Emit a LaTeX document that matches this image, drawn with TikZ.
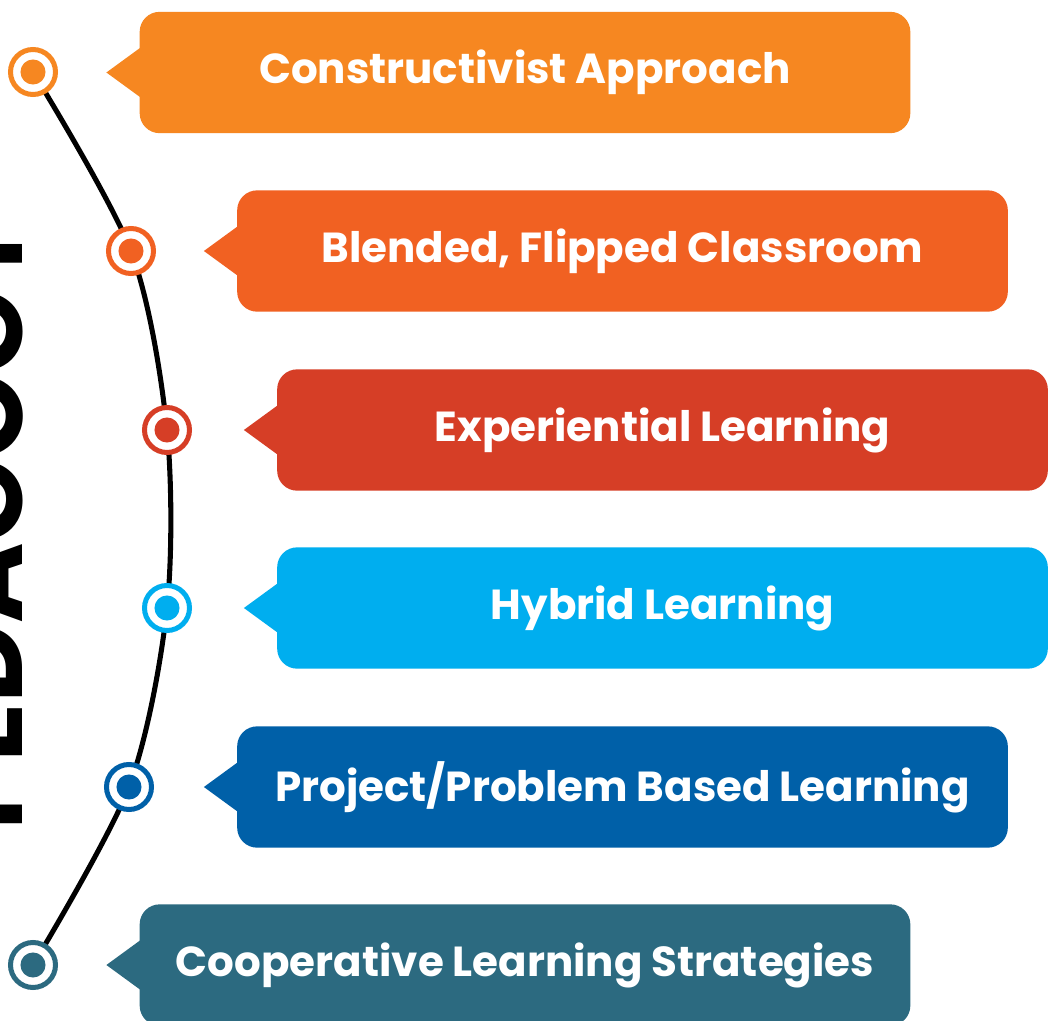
\documentclass[tikz,border=0pt]{standalone}
\usepackage{fontspec}
\setmainfont{Poppins}
\usepackage{xcolor}
\usepackage{tikz}
\usetikzlibrary{positioning,calc,backgrounds}
\definecolor{StepOrange}{RGB}{246,135,33}
\definecolor{StepFlame}{RGB}{241,97,34}
\definecolor{StepRed}{RGB}{214,62,38}
\definecolor{StepSky}{RGB}{0,174,239}
\definecolor{StepBlue}{RGB}{0,96,168}
\definecolor{StepTeal}{RGB}{44,106,128}

\begin{document}
\begin{tikzpicture}[x=0.75pt, y=-0.75pt,
                % card style (rounded box, white text)
                card/.style={rectangle, rounded corners=15pt, fill=#1, text=white, font=\bfseries\fontsize{31.5}{36}\selectfont, minimum width=578pt, minimum height=91pt, inner sep=0pt},
                % pointer of a card
                pointer/.style={fill=#1},
                % ring marker on the spine
                ring/.style={circle, draw=#1, fill=white, line width=3.75pt, minimum size=33.75pt, inner sep=0pt,
                    path picture={\fill[#1] (path picture bounding box.center) circle (9.4pt);}},
                % spine line
                spine/.style={draw=black, line width=3.8pt},
                % big side title
                sidetitle/.style={rotate=90, anchor=base, font=\bfseries\fontsize{82}{82}\selectfont, text=black}
            ]
                \useasboundingbox (0,0) rectangle (1051,1021);
                \clip (0,0) rectangle (1051,1021);

                % --- SIDE TITLE (cut off by the left edge) ---
                \node[sidetitle] (title) at (22,524) {PEDAGOGY};

                % --- CARDS ---
                \node[card=StepOrange] (b1) at (525,72.5) {Constructivist Approach};
                \node[card=StepFlame] (b2) at (622.5,251) {Blended, Flipped Classroom};
                \node[card=StepRed] (b3) at (662.5,430) {Experiential Learning};
                \node[card=StepSky] (b4) at (662.5,608) {Hybrid Learning};
                \node[card=StepBlue] (b5) at (622.5,787) {Project/Problem Based Learning};
                \node[card=StepTeal] (b6) at (525,965) {Cooperative Learning Strategies};

                % --- POINTERS ---
                \coordinate (t1) at ($(b1.west)+(-33,0)$);
                \coordinate (t2) at ($(b2.west)+(-33,0)$);
                \coordinate (t3) at ($(b3.west)+(-33,0)$);
                \coordinate (t4) at ($(b4.west)+(-33,0)$);
                \coordinate (t5) at ($(b5.west)+(-33,0)$);
                \coordinate (t6) at ($(b6.west)+(-33,0)$);
                \fill[pointer=StepOrange] ($(b1.west)+(4,-27)$) -- (t1) -- ($(b1.west)+(4,27)$) -- cycle;
                \fill[pointer=StepFlame] ($(b2.west)+(4,-27)$) -- (t2) -- ($(b2.west)+(4,27)$) -- cycle;
                \fill[pointer=StepRed] ($(b3.west)+(4,-27)$) -- (t3) -- ($(b3.west)+(4,27)$) -- cycle;
                \fill[pointer=StepSky] ($(b4.west)+(4,-27)$) -- (t4) -- ($(b4.west)+(4,27)$) -- cycle;
                \fill[pointer=StepBlue] ($(b5.west)+(4,-27)$) -- (t5) -- ($(b5.west)+(4,27)$) -- cycle;
                \fill[pointer=StepTeal] ($(b6.west)+(4,-27)$) -- (t6) -- ($(b6.west)+(4,27)$) -- cycle;

                % --- MARKERS ---
                \node[ring=StepOrange] (m1) at (33,72) {};
                \node[ring=StepFlame] (m2) at (131,251) {};
                \node[ring=StepRed] (m3) at (167,430) {};
                \node[ring=StepSky] (m4) at (167,608) {};
                \node[ring=StepBlue] (m5) at (129,787) {};
                \node[ring=StepTeal] (m6) at (33,965) {};

                % --- SPINE (behind the markers) ---
                \begin{scope}[on background layer]
                    \fill[white] (0,0) rectangle (1051,1021);
                    \draw[spine] plot[smooth] coordinates {(m1.center) (m2.center) (m3.center) (m4.center) (m5.center) (m6.center)};
                \end{scope}

            \end{tikzpicture}
\end{document}
